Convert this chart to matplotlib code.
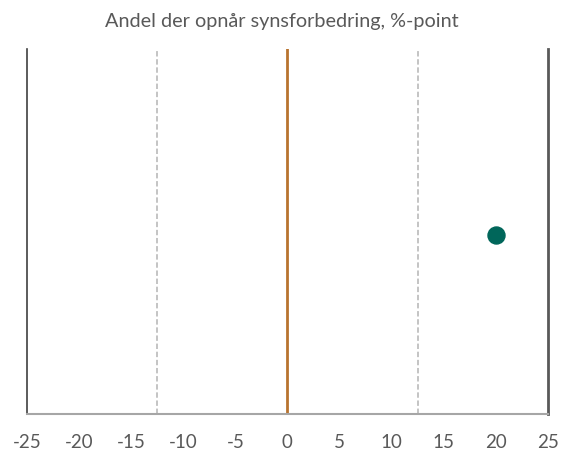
import matplotlib.pyplot as plt

# data
xticks = [-25, -20, -15, -10, -5, 0, 5, 10, 15, 20, 25]
ref_lines = [-12.5, 12.5]
zero_line = 0
point_x = [20]
point_y = [0.49]
title = 'Andel der opnår synsforbedring, %-point'

plt.rcParams['font.family'] = ['Lato', 'DejaVu Sans']

fig = plt.figure(figsize=(5.63, 4.52), dpi=100)
ax = fig.add_axes([0.048, 0.082, 0.925, 0.807])

for x in ref_lines:
    ax.axvline(x, color='#bfbfbf', linestyle=(0, (3, 1.5)), linewidth=1.3)
ax.axvline(zero_line, color='#b8732f', linewidth=2)
ax.scatter(point_x, point_y, s=150, color='#00665a', zorder=3)

ax.set_xlim(-25, 25)
ax.set_ylim(0, 1)
ax.set_xticks(xticks)
ax.set_xticklabels([str(t) for t in xticks], color='#595959', fontsize=13.5)
ax.set_yticks([])
ax.tick_params(axis='x', length=0, pad=14)

ax.spines['top'].set_visible(False)
ax.spines['left'].set_color('#404040')
ax.spines['left'].set_linewidth(1.2)
ax.spines['right'].set_color('#595959')
ax.spines['right'].set_linewidth(2)
ax.spines['bottom'].set_color('#a6a6a6')
ax.spines['bottom'].set_linewidth(1.5)

fig.text(0.5, 0.953, title, ha='center', va='center', color='#595959', fontsize=14.3)

fig.savefig('out.png', dpi=100)
